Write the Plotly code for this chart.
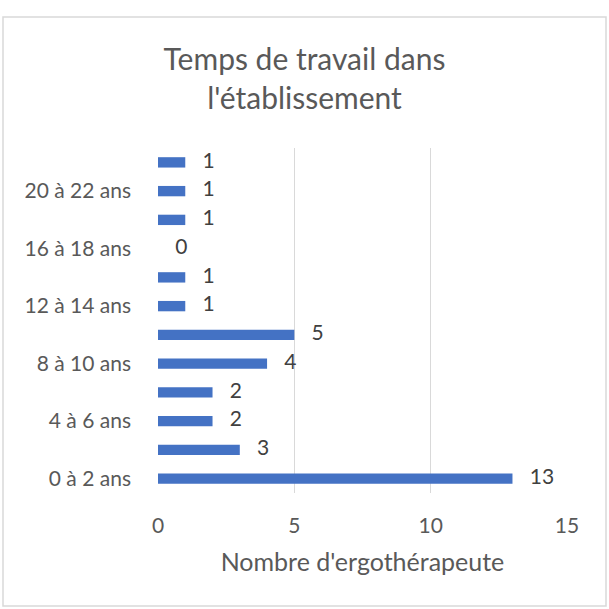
import plotly.graph_objects as go

categories = ["0 à 2 ans", "2 à 4 ans", "4 à 6 ans", "6 à 8 ans", "8 à 10 ans",
              "10 à 12 ans", "12 à 14 ans", "14 à 16 ans", "16 à 18 ans",
              "18 à 20 ans", "20 à 22 ans", "22 à 24 ans"]
values = [13, 3, 2, 2, 4, 5, 1, 1, 0, 1, 1, 1]
shown_ticks = categories[::2]
x_ticks = [0, 5, 10, 15]

title_text = "Temps de travail dans<br>l'établissement"
x_title = "Nombre d'ergothérapeute"

W, H = 609, 609
L, R, T, B = 158, 42, 148, 116
FONT = "Lato"
GRAY = "#595959"

fig = go.Figure()
fig.add_trace(go.Bar(
    x=values, y=categories, orientation="h",
    marker=dict(color="#4472C4", line=dict(width=0)), width=0.36,
    hoverinfo="x+y",
))
fig.add_trace(go.Scatter(
    x=values, y=categories, mode="markers+text",
    text=[str(v) for v in values], textposition="middle right",
    marker=dict(size=26, color="rgba(0,0,0,0)"),
    textfont=dict(family=FONT, size=21, color="#404040"),
    hoverinfo="skip", cliponaxis=False,
))

def px_to_paper_x(px):
    return (px - L) / (W - L - R)

def px_to_paper_y(py):
    return (H - B - py) / (H - T - B)

fig.add_shape(type="rect", xref="paper", yref="paper",
              x0=px_to_paper_x(3), x1=px_to_paper_x(606),
              y0=px_to_paper_y(606), y1=px_to_paper_y(17),
              line=dict(color="#D9D9D9", width=1.5), fillcolor="rgba(0,0,0,0)",
              layer="below")

fig.update_layout(
    width=W, height=H,
    margin=dict(l=L, r=R, t=T, b=B),
    paper_bgcolor="white", plot_bgcolor="white",
    showlegend=False,
    bargap=0.64,
    font=dict(family=FONT, color=GRAY),
    title=dict(text=title_text, x=0.5, xref="container", xanchor="center",
               y=1 - 70 / H, yref="container", yanchor="middle",
               font=dict(family=FONT, size=30, color=GRAY)),
    xaxis=dict(range=[0, 15], tickvals=x_ticks, showgrid=True,
               gridcolor="#D9D9D9", gridwidth=1, zeroline=False,
               showline=False, ticks="", tickfont=dict(size=21, color=GRAY),
               ticklabelstandoff=18,
               title=dict(text=x_title, font=dict(size=25, color=GRAY), standoff=17),
               fixedrange=True),
    yaxis=dict(type="category", categoryorder="array", categoryarray=categories,
               tickvals=shown_ticks, ticktext=shown_ticks, showgrid=False,
               zeroline=False, showline=False, ticks="",
               tickfont=dict(size=21, color=GRAY), ticklabelstandoff=26,
               range=[-0.5, 11.5], fixedrange=True),
)

fig.write_html("out.html", config={"displayModeBar": False},
               post_script="document.body.style.margin='0px';")
